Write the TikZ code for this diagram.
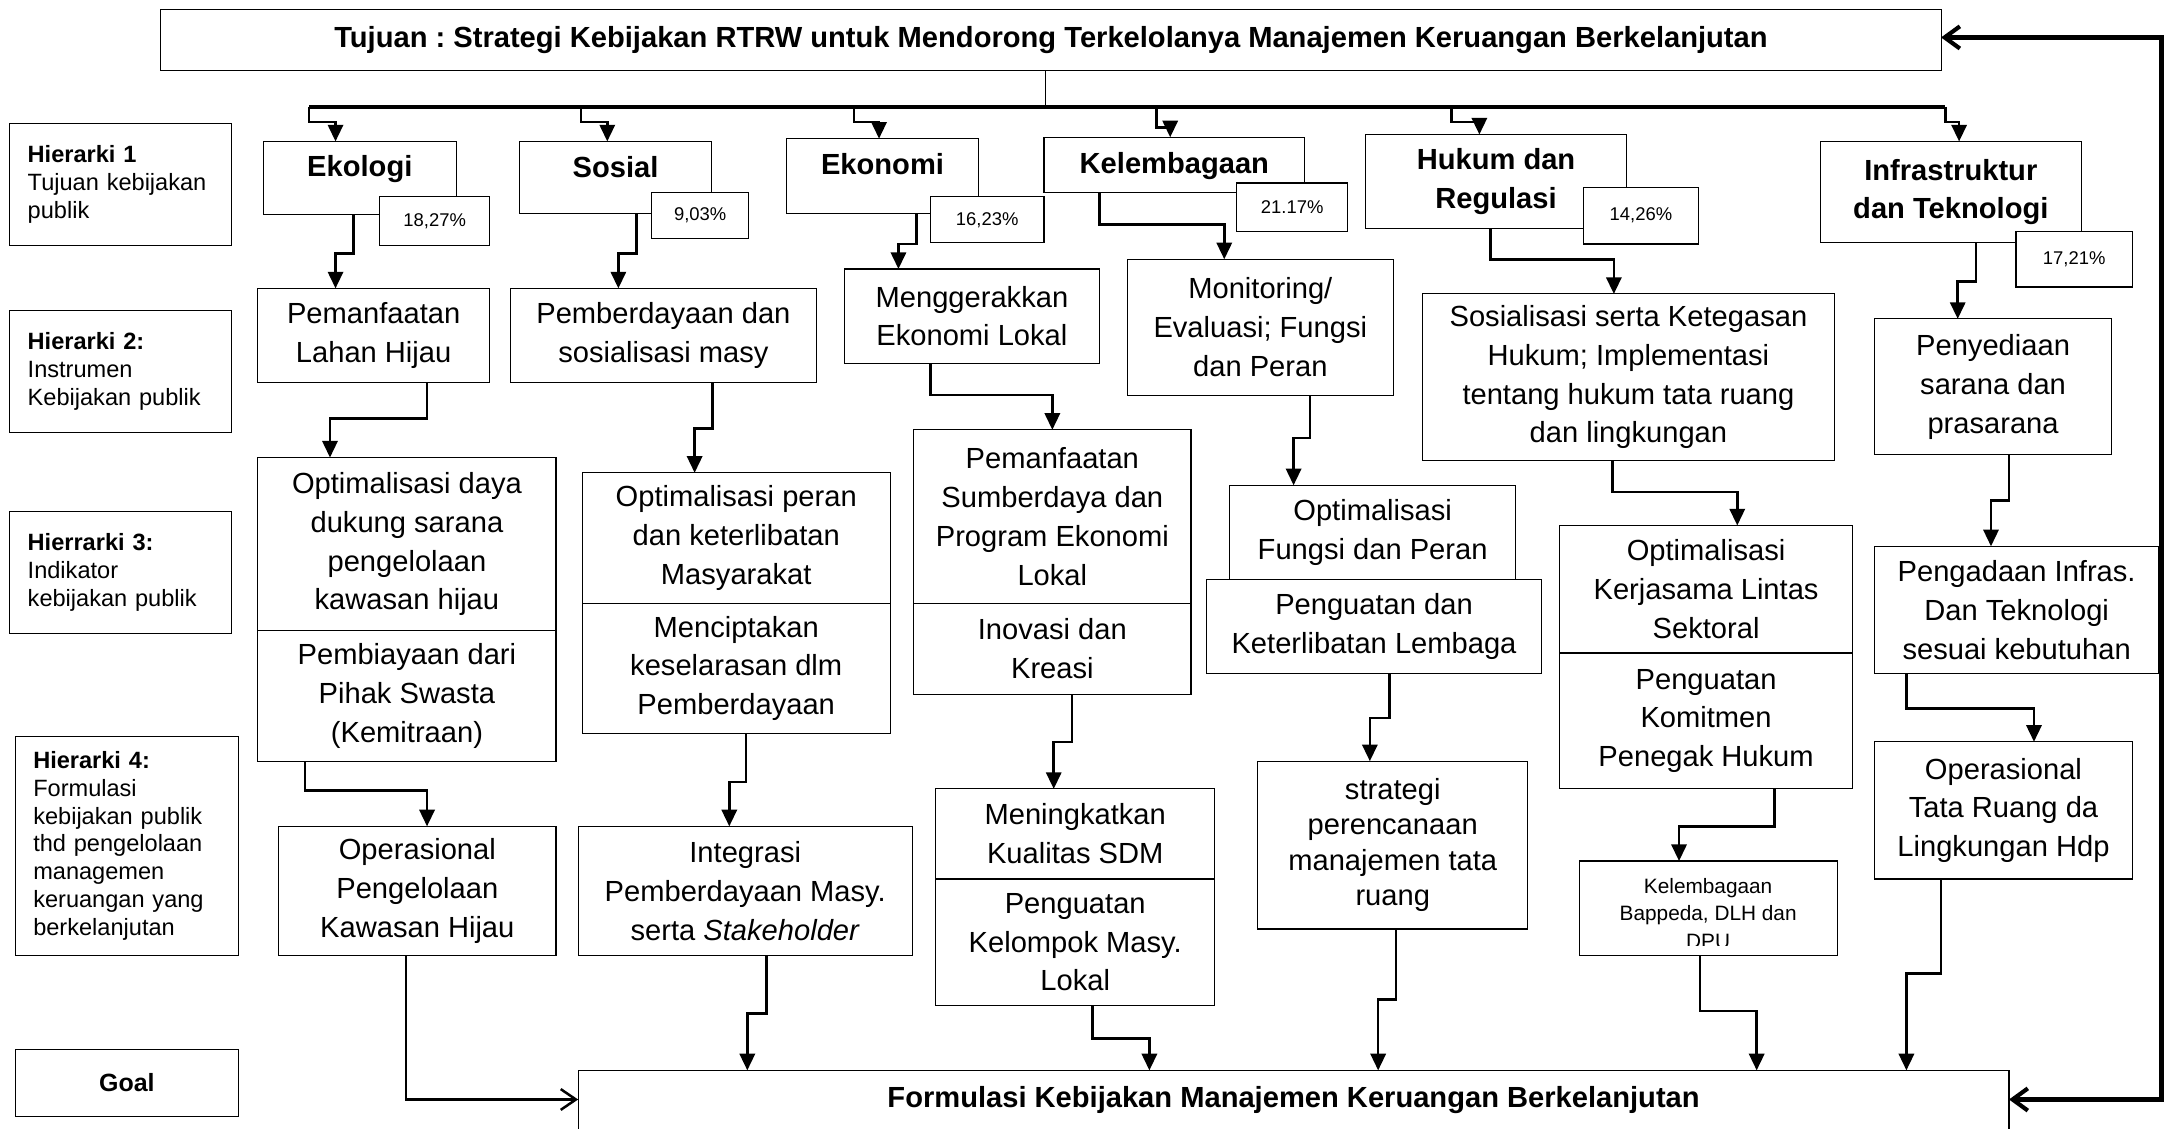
\documentclass[tikz,border=0pt]{standalone}
\usepackage{fontspec}
\setmainfont{Liberation Sans}
\frenchspacing
\usetikzlibrary{arrows.meta}
\tikzset{
  cell/.style={draw, line width=0.8pt, fill=white, anchor=north west, inner sep=0pt, outer sep=0pt, align=center, font=\fontsize{21}{28}\selectfont},
  headcell/.style={cell, font=\fontsize{21}{28}\selectfont\bfseries},
  pctcell/.style={cell, font=\fontsize{13.3}{16}\selectfont},
  levelcell/.style={draw, line width=0.8pt, anchor=north west, inner xsep=13pt, inner ysep=0pt, outer sep=0pt, align=left, text width=134pt, font=\fontsize{17}{20}\selectfont},
  conn/.style={line width=1.8pt, -{Triangle[length=12pt,width=11pt]}},
  openconn/.style={line width=1.8pt, -{Straight Barb[length=11pt,width=15pt]}},
  busline/.style={line width=2.6pt},
  backline/.style={line width=3pt, {Straight Barb[length=11pt,width=16pt]}-{Straight Barb[length=11pt,width=16pt]}},
}
\begin{document}
\begin{tikzpicture}[x=1pt, y=-1pt]
\useasboundingbox (0,0) rectangle (1568,814);

\node[headcell, minimum width=1284pt, minimum height=44pt] (tujuan) at (116,7) {Tujuan : Strategi Kebijakan RTRW untuk Mendorong Terkelolanya Manajemen Keruangan Berkelanjutan};

% hierarki
\node[levelcell, minimum height=88pt] (h1) at (7,89) {\textbf{Hierarki 1}\\Tujuan kebijakan\\publik};
\node[levelcell, minimum height=88pt] (h2) at (7,224) {\textbf{Hierarki 2:}\\Instrumen\\Kebijakan publik};
\node[levelcell, minimum height=88pt] (h3) at (7,369) {\textbf{Hierrarki 3:}\\Indikator\\kebijakan publik};
\node[levelcell, minimum height=158pt, text width=135pt] (h4) at (11,531) {\textbf{Hierarki 4:}\\Formulasi\\kebijakan publik\\thd pengelolaan\\managemen\\keruangan yang\\berkelanjutan};
\node[levelcell, minimum height=48pt, text width=135pt, align=center, font=\fontsize{18}{20}\selectfont\bfseries] (goallabel) at (11,757) {Goal};

% tujuan kebijakan
\node[headcell, minimum width=139pt, text height=25.5pt, text depth=27.5pt] (ekologi) at (190,102) {Ekologi};
\node[headcell, minimum width=138pt, text height=26pt, text depth=26pt] (sosial) at (375,102) {Sosial};
\node[headcell, minimum width=139pt, text height=26pt, text depth=28pt] (ekonomi) at (567,100) {Ekonomi};
\node[headcell, minimum width=188pt, text height=26pt, text depth=14pt] (kelembagaan) at (753,99) {Kelembagaan};
\node[headcell, minimum width=188pt, minimum height=68pt] (hukum) at (985,97) {Hukum dan\\Regulasi};
\node[headcell, minimum width=188pt, minimum height=73pt] (infra) at (1313,102) {Infrastruktur\\dan Teknologi};

\node[pctcell, minimum width=79pt, minimum height=35pt] (pekologi) at (274,142) {18,27\%};
\node[pctcell, minimum width=70pt, minimum height=33pt] (psosial) at (470,139) {9,03\%};
\node[pctcell, minimum width=82pt, minimum height=33pt] (pekonomi) at (671,142) {16,23\%};
\node[pctcell, minimum width=80pt, minimum height=35pt] (pkelembagaan) at (892,132) {21.17\%};
\node[pctcell, minimum width=83pt, minimum height=41pt] (phukum) at (1142,135) {14,26\%};
\node[pctcell, minimum width=84pt, minimum height=40pt] (pinfra) at (1454,167) {17,21\%};

% instrumen
\node[cell, minimum width=167pt, minimum height=68pt] (lahan) at (186,208) {Pemanfaatan\\Lahan Hijau};
\node[cell, minimum width=221pt, minimum height=68pt] (masy) at (368,208) {Pemberdayaan dan\\sosialisasi masy};
\node[cell, minimum width=184pt, minimum height=68pt] (lokal) at (609,194) {Menggerakkan\\Ekonomi Lokal};
\node[cell, minimum width=192pt, minimum height=98pt] (monev) at (813,187) {Monitoring/\\Evaluasi; Fungsi\\dan Peran};
\node[cell, minimum width=297pt, minimum height=120pt] (regulasi) at (1026,212) {Sosialisasi serta Ketegasan\\Hukum; Implementasi\\tentang hukum tata ruang\\dan lingkungan};
\node[cell, minimum width=171pt, minimum height=98pt] (sarana) at (1352,230) {Penyediaan\\sarana dan\\prasarana};

% indikator
\node[cell, minimum width=215pt, minimum height=125pt] (dayadukung) at (186,330) {Optimalisasi daya\\dukung sarana\\pengelolaan\\kawasan hijau};
\node[cell, minimum width=215pt, minimum height=94pt] (swasta) at (186,455) {Pembiayaan dari\\Pihak Swasta\\(Kemitraan)};
\node[cell, minimum width=222pt, minimum height=94pt] (peran) at (420,341) {Optimalisasi peran\\dan keterlibatan\\Masyarakat};
\node[cell, minimum width=222pt, minimum height=94pt] (selaras) at (420,435) {Menciptakan\\keselarasan dlm\\Pemberdayaan};
\node[cell, minimum width=200pt, minimum height=125pt] (sumberdaya) at (659,310) {Pemanfaatan\\Sumberdaya dan\\Program Ekonomi\\Lokal};
\node[cell, minimum width=200pt, minimum height=66pt] (inovasi) at (659,435) {Inovasi dan\\Kreasi};
\node[cell, minimum width=206pt, minimum height=68pt] (fungsi) at (887,350) {Optimalisasi\\Fungsi dan Peran};
\node[cell, minimum width=242pt, minimum height=68pt] (lembaga) at (870,418) {Penguatan dan\\Keterlibatan Lembaga};
\node[cell, minimum width=211pt, minimum height=92pt] (lintas) at (1125,379) {Optimalisasi\\Kerjasama Lintas\\Sektoral};
\node[cell, minimum width=211pt, minimum height=98pt] (komitmen) at (1125,471) {Penguatan\\Komitmen\\Penegak Hukum};
\node[cell, minimum width=205pt, minimum height=92pt] (infras) at (1352,394) {Pengadaan Infras.\\Dan Teknologi\\sesuai kebutuhan};

% formulasi
\node[cell, minimum width=200pt, minimum height=93pt] (opshijau) at (201,596) {Operasional\\Pengelolaan\\Kawasan Hijau};
\node[cell, minimum width=241pt, minimum height=93pt] (integrasi) at (417,596) {Integrasi\\Pemberdayaan Masy.\\serta \textit{Stakeholder}};
\node[cell, minimum width=201pt, minimum height=65pt] (sdm) at (675,569) {Meningkatkan\\Kualitas SDM};
\node[cell, minimum width=201pt, minimum height=91pt] (kelompok) at (675,634) {Penguatan\\Kelompok Masy.\\Lokal};
\node[cell, minimum width=195pt, minimum height=121pt, font=\fontsize{21}{25.5}\selectfont] (tataruang) at (907,549) {strategi\\perencanaan\\manajemen tata\\ruang};
\node[cell, minimum width=186pt, minimum height=68pt] (bappeda) at (1139,621) {};
\begin{scope}
\clip (1139,621) rectangle (1325,682);
\node[anchor=north, inner sep=0pt, align=center, font=\fontsize{15}{20}\selectfont] (bappedateks) at (1232,633) {Kelembagaan\\Bappeda, DLH dan\\DPU};
\end{scope}
\node[cell, minimum width=186pt, minimum height=99pt] (opsruang) at (1352,535) {Operasional\\Tata Ruang da\\Lingkungan Hdp};

\node[headcell, minimum width=1032pt, text height=27pt, text depth=35pt] (goal) at (417,772) {Formulasi Kebijakan Manajemen Keruangan Berkelanjutan};

% connectors
\coordinate (busL) at (223,77);
\coordinate (busR) at (1403,77);
\draw[line width=1pt] (tujuan.south -| 754,0) -- (busL -| 754,0);
\draw[busline] (busL) -- (busR);

\draw[conn] (busL) -- ++(0,11) -| (ekologi.north -| 242,0);
\draw[conn] (busL -| 419,0) -- ++(0,11) -| (sosial.north -| 438,0);
\draw[conn] (busL -| 616,0) -- ++(0,11) -| (ekonomi.north -| 634,0);
\draw[conn] (busL -| 834,0) -- ++(0,15) -| (kelembagaan.north -| 844,0);
\draw[conn] (busL -| 1047,0) -- ++(0,11) -| (hukum.north -| 1067,0);
\draw[conn] (busR) -- ++(0,11) -| (infra.north -| 1413,0);

\draw[conn] (ekologi.south -| 255,0) -- ++(0,28) -| (lahan.north -| 242,0);
\draw[conn] (sosial.south -| 459,0) -- ++(0,29) -| (masy.north -| 446,0);
\draw[conn] (ekonomi.south -| 661,0) -- ++(0,22) -| (lokal.north -| 648,0);
\draw[conn] (kelembagaan.south -| 793,0) -- ++(0,23) -| (monev.north -| 883,0);
\draw[conn] (hukum.south -| 1075,0) -- ++(0,22) -| (regulasi.north -| 1164,0);
\draw[conn] (infra.south -| 1425,0) -- ++(0,28) -| (sarana.north -| 1412,0);

\draw[conn] (lahan.south -| 308,0) -- ++(0,26) -| (dayadukung.north -| 238,0);
\draw[conn] (masy.south -| 514,0) -- ++(0,33) -| (peran.north -| 501,0);
\draw[conn] (lokal.south -| 671,0) -- ++(0,23) -| (sumberdaya.north -| 759,0);
\draw[conn] (monev.south -| 945,0) -- ++(0,31) -| (fungsi.north -| 933,0);
\draw[conn] (regulasi.south -| 1163,0) -- ++(0,23) -| (lintas.north -| 1253,0);
\draw[conn] (sarana.south -| 1449,0) -- ++(0,33) -| (infras.north -| 1436,0);

\draw[conn] (swasta.south -| 220,0) -- ++(0,21) -| (opshijau.north -| 308,0);
\draw[conn] (selaras.south -| 538,0) -- ++(0,35) -| (integrasi.north -| 526,0);
\draw[conn] (inovasi.south -| 773,0) -- ++(0,34) -| (sdm.north -| 760,0);
\draw[conn] (lembaga.south -| 1002,0) -- ++(0,32) -| (tataruang.north -| 988,0);
\draw[conn] (komitmen.south -| 1280,0) -- ++(0,27) -| (bappeda.north -| 1211,0);
\draw[conn] (infras.south -| 1375,0) -- ++(0,25) -| (opsruang.north -| 1467,0);

\draw[openconn] (opshijau.south -| 293,0) |- (goal.west |- 0,793);
\draw[conn] (integrasi.south -| 553,0) -- ++(0,42) -| (goal.north -| 539,0);
\draw[conn] (kelompok.south -| 788,0) -- ++(0,24) -| (goal.north -| 829,0);
\draw[conn] (tataruang.south -| 1007,0) -- ++(0,51) -| (goal.north -| 994,0);
\draw[conn] (bappeda.south -| 1226,0) -- ++(0,40) -| (goal.north -| 1267,0);
\draw[conn] (opsruang.south -| 1400,0) -- ++(0,68) -| (goal.north -| 1375,0);

\draw[backline] (goal.east |- 0,793) -| (1559,27) -- (tujuan.east |- 0,27);
\end{tikzpicture}
\end{document}
